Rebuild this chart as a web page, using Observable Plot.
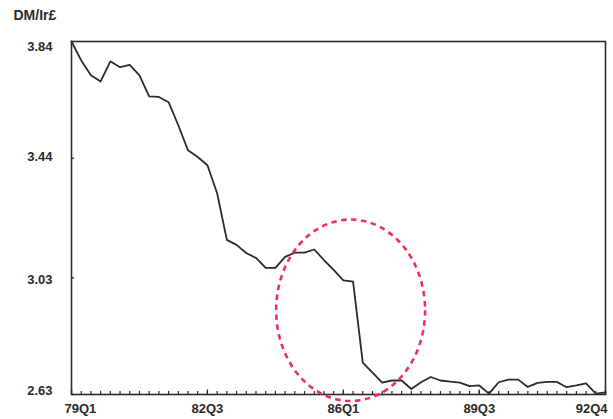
<!DOCTYPE html>
<html>
<head>
<meta charset="utf-8">
<script src="https://cdn.jsdelivr.net/npm/d3@7"></script>
<script src="https://cdn.jsdelivr.net/npm/@observablehq/plot@0.6"></script>
<style>
  html, body { margin: 0; padding: 0; background: #fff; }
  #chart svg { display: block; }
</style>
</head>
<body>
<div id="chart"></div>
<script>
// ---- data ----
const yLabel = "DM/Ir£";
const firstYear = 79;
const quarterCount = 56; // 79Q1 .. 92Q4
const quarterLabels = d3.range(quarterCount).map(i => `${firstYear + Math.floor(i / 4)}Q${(i % 4) + 1}`);
const rate = [
  3.84, 3.775, 3.724, 3.703, 3.772, 3.752, 3.760, 3.724,
  3.652, 3.650, 3.632, 3.553, 3.467, 3.444, 3.416, 3.320,
  3.160, 3.143, 3.115, 3.098, 3.064, 3.064, 3.102, 3.116,
  3.116, 3.127, 3.091, 3.057, 3.021, 3.017, 2.739, 2.705,
  2.671, 2.678, 2.678, 2.649, 2.672, 2.690, 2.678, 2.674,
  2.671, 2.659, 2.661, 2.633, 2.672, 2.681, 2.681, 2.656,
  2.670, 2.673, 2.673, 2.655, 2.661, 2.668, 2.633, 2.637
];
const xTickLabels = ["79Q1", "82Q3", "86Q1", "89Q3", "92Q4"];
const yTickValues = [2.63, 3.03, 3.44, 3.84];
// highlight ellipse (in data units: quarter index, DM/Ir£)
const highlightCenterQuarter = 28.8;
const highlightCenterValue = 2.917;
const highlightHalfWidthQuarters = 7.67;
const highlightHalfHeightValue = 0.311;

// ---- build ----
const series = quarterLabels.map((q, i) => ({i, q, v: rate[i]}));
const qIndex = series.map(d => d.i);
const tickIdx = xTickLabels.map(q => quarterLabels.indexOf(q));
const fmtQ = i => quarterLabels[i];
const ink = "#2b2b2b";

const yLabelShift = {"3.84": 5, "3.44": -1, "3.03": 2, "2.63": -4};

const ellipseMark = (index, scales) => {
  const cx = scales.x(highlightCenterQuarter);
  const cy = scales.y(highlightCenterValue);
  const rx = Math.abs(scales.x(highlightCenterQuarter + highlightHalfWidthQuarters) - cx);
  const ry = Math.abs(scales.y(highlightCenterValue - highlightHalfHeightValue) - cy);
  const e = d3.create("svg:ellipse")
    .attr("cx", cx).attr("cy", cy).attr("rx", rx).attr("ry", ry)
    .attr("fill", "none")
    .attr("stroke", "#ee2f58")
    .attr("stroke-width", 2.6)
    .attr("stroke-dasharray", "5.5,4.5");
  return e.node();
};

const chart = Plot.plot({
  width: 613,
  height: 419,
  marginTop: 41,
  marginBottom: 25,
  marginLeft: 71,
  marginRight: 8,
  style: {fontFamily: "'Liberation Sans', Arial, sans-serif", fontSize: "13px", fontWeight: "bold", color: ink, background: "#fff"},
  x: {domain: [0, quarterCount - 1]},
  y: {domain: [yTickValues[0], yTickValues[yTickValues.length - 1]]},
  marks: [
    // minor quarterly ticks (inward)
    Plot.axisX(qIndex, {tickSize: 3, dy: -3, fill: "none", stroke: ink, strokeWidth: 1.2, label: null}),
    // major ticks (inward)
    Plot.axisX(tickIdx, {tickSize: 4.5, dy: -4.5, fill: "none", stroke: ink, strokeWidth: 1.3, label: null}),
    // x tick labels
    Plot.axisX(tickIdx.slice(1, -1), {tickSize: 0, tickPadding: 9, tickFormat: fmtQ, label: null}),
    Plot.axisX(tickIdx.slice(0, 1), {tickSize: 0, tickPadding: 9, tickFormat: fmtQ, textAnchor: "start", dx: -7, label: null}),
    Plot.axisX(tickIdx.slice(-1), {tickSize: 0, tickPadding: 9, tickFormat: fmtQ, textAnchor: "end", dx: 2, label: null}),
    // y ticks (inward) and labels
    Plot.axisY(yTickValues, {tickSize: 3, dx: 3, fill: "none", stroke: ink, strokeWidth: 1.3, label: null}),
    ...yTickValues.map(v => Plot.axisY([v], {tickSize: 0, tickPadding: 19, tickFormat: d => d.toFixed(2), dy: yLabelShift[v.toFixed(2)], label: null})),
    Plot.frame({stroke: ink, strokeWidth: 1.6}),
    Plot.line(series, {x: "i", y: "v", stroke: ink, strokeWidth: 1.8, strokeLinejoin: "round"}),
    ellipseMark,
    Plot.text([yLabel], {text: d => d, frameAnchor: "top-left", dx: -58, dy: -26, textAnchor: "start", lineAnchor: "middle", fontSize: 14, fontWeight: "bold", fill: ink})
  ]
});
document.getElementById("chart").append(chart);
</script>
</body>
</html>
